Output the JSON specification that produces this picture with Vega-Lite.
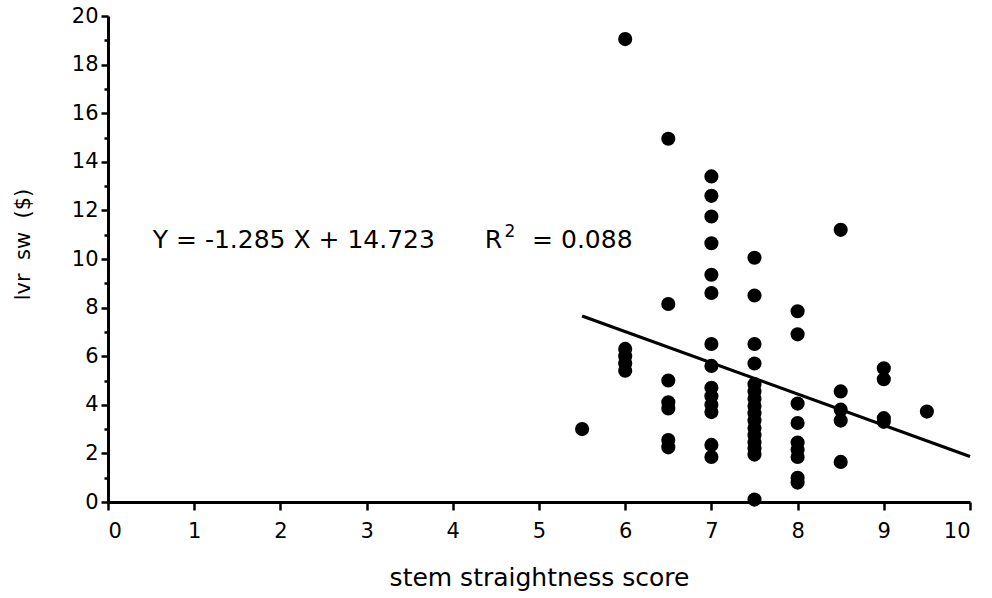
{
  "$schema": "https://vega.github.io/schema/vega-lite/v6.json",
  "width": 862,
  "height": 486,
  "autosize": {"type": "none"},
  "padding": {"left": 108, "top": 16, "right": 22, "bottom": 96},
  "background": "white",
  "config": {
    "view": {"stroke": null},
    "axis": {
      "grid": false,
      "domainColor": "black",
      "tickColor": "black",
      "labelColor": "black",
      "titleColor": "black",
      "labelFont": "DejaVu Sans",
      "titleFont": "DejaVu Sans",
      "titleFontWeight": "normal",
      "domainWidth": 3,
      "tickWidth": 2.5
    }
  },
  "data": {
    "values": [
      {"x": 5.5, "y": 3.0},
      {"x": 6, "y": 19.05}, {"x": 6, "y": 6.3}, {"x": 6, "y": 6.0}, {"x": 6, "y": 5.7}, {"x": 6, "y": 5.4},
      {"x": 6.5, "y": 14.95}, {"x": 6.5, "y": 8.15}, {"x": 6.5, "y": 5.0}, {"x": 6.5, "y": 4.1}, {"x": 6.5, "y": 3.85}, {"x": 6.5, "y": 2.55}, {"x": 6.5, "y": 2.25},
      {"x": 7, "y": 13.4}, {"x": 7, "y": 12.6}, {"x": 7, "y": 11.75}, {"x": 7, "y": 10.65}, {"x": 7, "y": 9.35}, {"x": 7, "y": 8.6}, {"x": 7, "y": 6.5}, {"x": 7, "y": 5.6}, {"x": 7, "y": 4.7}, {"x": 7, "y": 4.35}, {"x": 7, "y": 4.0}, {"x": 7, "y": 3.7}, {"x": 7, "y": 2.35}, {"x": 7, "y": 1.85},
      {"x": 7.5, "y": 10.05}, {"x": 7.5, "y": 8.5}, {"x": 7.5, "y": 6.5}, {"x": 7.5, "y": 5.7}, {"x": 7.5, "y": 4.85}, {"x": 7.5, "y": 4.55}, {"x": 7.5, "y": 4.25}, {"x": 7.5, "y": 3.95}, {"x": 7.5, "y": 3.65}, {"x": 7.5, "y": 3.35}, {"x": 7.5, "y": 3.05}, {"x": 7.5, "y": 2.75}, {"x": 7.5, "y": 2.45}, {"x": 7.5, "y": 2.2}, {"x": 7.5, "y": 1.95}, {"x": 7.5, "y": 0.1},
      {"x": 8, "y": 7.85}, {"x": 8, "y": 6.9}, {"x": 8, "y": 4.05}, {"x": 8, "y": 3.25}, {"x": 8, "y": 2.45}, {"x": 8, "y": 2.15}, {"x": 8, "y": 1.85}, {"x": 8, "y": 1.0}, {"x": 8, "y": 0.8},
      {"x": 8.5, "y": 11.2}, {"x": 8.5, "y": 4.55}, {"x": 8.5, "y": 3.8}, {"x": 8.5, "y": 3.35}, {"x": 8.5, "y": 1.65},
      {"x": 9, "y": 5.5}, {"x": 9, "y": 5.05}, {"x": 9, "y": 3.45}, {"x": 9, "y": 3.3},
      {"x": 9.5, "y": 3.72}
    ]
  },
  "layer": [
    {
      "mark": {"type": "point", "opacity": 0},
      "encoding": {
        "x": {
          "field": "x", "type": "quantitative",
          "scale": {"domain": [0, 10], "nice": false, "zero": false},
          "axis": {"values": [0, 1, 2, 3, 4, 5, 6, 7, 8, 9, 10], "format": "d", "tickSize": 8, "labelPadding": 10, "labelFontSize": 21, "title": "stem straightness score", "titleFontSize": 25, "titlePadding": 24}
        },
        "y": {
          "field": "y", "type": "quantitative",
          "scale": {"domain": [0, 20], "nice": false},
          "axis": {"orient": "left", "values": [1, 3, 5, 7, 9, 11, 13, 15, 17, 19], "labels": false, "domain": false, "tickSize": 4, "title": null}
        }
      }
    },
    {
      "mark": {"type": "point", "shape": "circle", "filled": true, "color": "black", "opacity": 1, "size": 200},
      "encoding": {
        "x": {"field": "x", "type": "quantitative"},
        "y": {
          "field": "y", "type": "quantitative",
          "scale": {"domain": [0, 20], "nice": false},
          "axis": {"orient": "left", "values": [0, 2, 4, 6, 8, 10, 12, 14, 16, 18, 20], "format": "d", "tickSize": 7, "labelPadding": 3, "labelFontSize": 21, "title": "lvr\u00a0\u00a0sw\u00a0\u00a0($)", "titleFontSize": 21, "titlePadding": 38, "titleY": 228}
        }
      }
    },
    {
      "data": {"values": [{"x": 5.5, "y": 7.655}, {"x": 10, "y": 1.873}]},
      "mark": {"type": "line", "color": "black", "strokeWidth": 3.2},
      "encoding": {
        "x": {"field": "x", "type": "quantitative"},
        "y": {"field": "y", "type": "quantitative", "axis": null}
      }
    },
    {
      "data": {"values": [{}]},
      "mark": {"type": "text", "text": "Y = -1.285 X + 14.723", "align": "left", "baseline": "alphabetic", "font": "DejaVu Sans", "fontSize": 25, "color": "black"},
      "encoding": {
        "x": {"datum": 0.52, "type": "quantitative"},
        "y": {"datum": 10.45, "type": "quantitative", "axis": null}
      }
    },
    {
      "data": {"values": [{}]},
      "mark": {"type": "text", "text": "R", "align": "left", "baseline": "alphabetic", "font": "DejaVu Sans", "fontSize": 25, "color": "black"},
      "encoding": {
        "x": {"datum": 4.37, "type": "quantitative"},
        "y": {"datum": 10.45, "type": "quantitative", "axis": null}
      }
    },
    {
      "data": {"values": [{}]},
      "mark": {"type": "text", "text": "2", "align": "left", "baseline": "alphabetic", "font": "DejaVu Sans", "fontSize": 17, "color": "black"},
      "encoding": {
        "x": {"datum": 4.6, "type": "quantitative"},
        "y": {"datum": 10.9, "type": "quantitative", "axis": null}
      }
    },
    {
      "data": {"values": [{}]},
      "mark": {"type": "text", "text": "= 0.088", "align": "left", "baseline": "alphabetic", "font": "DejaVu Sans", "fontSize": 25, "color": "black"},
      "encoding": {
        "x": {"datum": 4.92, "type": "quantitative"},
        "y": {"datum": 10.45, "type": "quantitative", "axis": null}
      }
    }
  ],
  "resolve": {"axis": {"y": "independent"}}
}
